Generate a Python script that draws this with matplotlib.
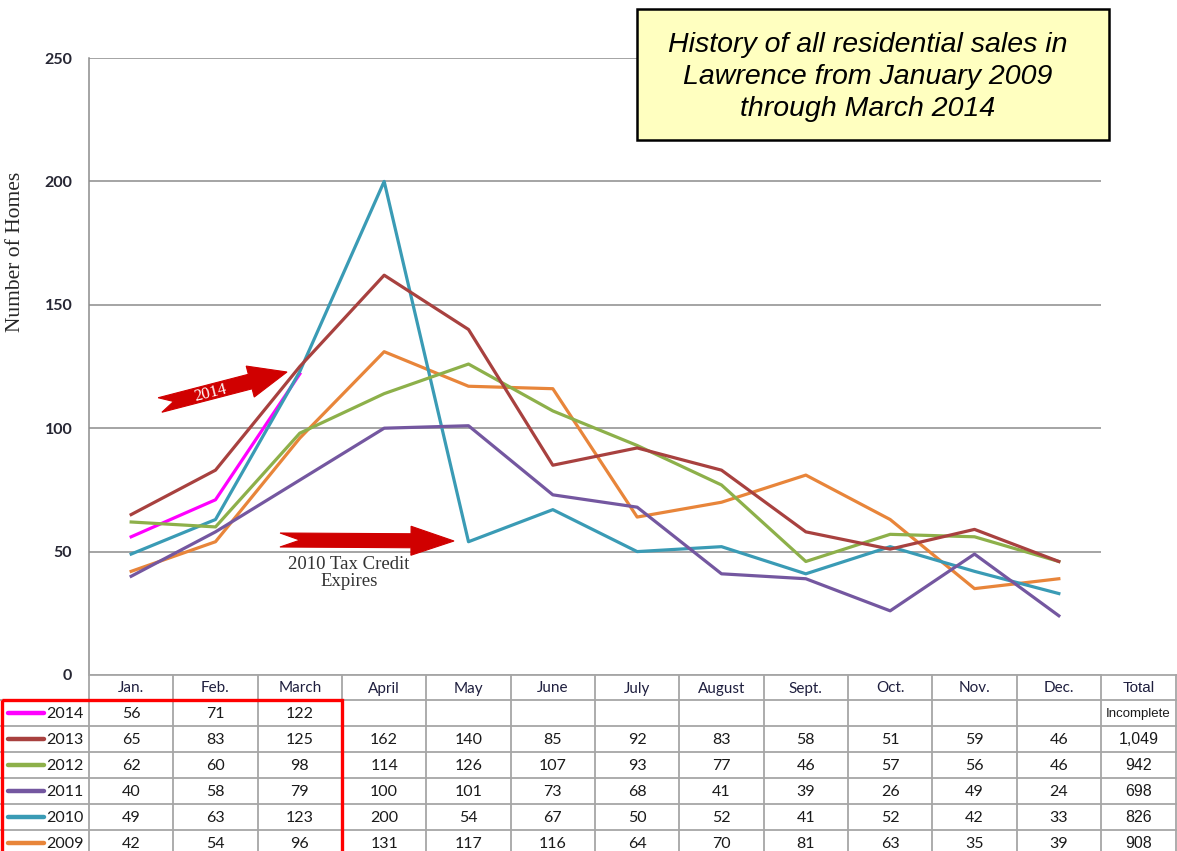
import numpy as np
import matplotlib
matplotlib.use('Agg')
from matplotlib import pyplot as plt
from matplotlib.patches import Polygon, Rectangle

# Data
months = ['Jan.', 'Feb.', 'March', 'April', 'May', 'June', 'July', 'August',
          'Sept.', 'Oct.', 'Nov.', 'Dec.']
years = ['2014', '2013', '2012', '2011', '2010', '2009']
sales_2014 = [56, 71, 122, None, None, None, None, None, None, None, None, None]
sales_2013 = [65, 83, 125, 162, 140, 85, 92, 83, 58, 51, 59, 46]
sales_2012 = [62, 60, 98, 114, 126, 107, 93, 77, 46, 57, 56, 46]
sales_2011 = [40, 58, 79, 100, 101, 73, 68, 41, 39, 26, 49, 24]
sales_2010 = [49, 63, 123, 200, 54, 67, 50, 52, 41, 52, 42, 33]
sales_2009 = [42, 54, 96, 131, 117, 116, 64, 70, 81, 63, 35, 39]
totals = ['Incomplete', '1,049', '942', '698', '826', '908']

series = [sales_2014, sales_2013, sales_2012, sales_2011, sales_2010, sales_2009]
colors = ['#FF00FF', '#A8413F', '#8DB04A', '#7457A0', '#3A9BB5', '#E8853A']
draw_order = [0, 5, 4, 3, 2, 1]

W, H = 1177, 851
fig = plt.figure(figsize=(W / 100, H / 100), dpi=100)

# pixel layout of plot area / table
px_left, px_right, px_top, px_zero = 89, 1101, 58, 675
row_h = 26
hdr_bottom = 700

ax = fig.add_axes([px_left / W, 1 - px_zero / H, (px_right - px_left) / W, (px_zero - px_top) / H])
x = np.arange(len(months))
for z, i in enumerate(draw_order):
    y = np.array([np.nan if v is None else v for v in series[i]], dtype=float)
    ax.plot(x, y, color=colors[i], lw=2.3, zorder=3 + z * 0.1)
ax.set_xlim(-0.5, len(months) - 0.5)
ax.set_ylim(0, 250)
ax.set_yticks([0, 50, 100, 150, 200, 250])
ax.set_xticks([])
ax.grid(axis='y', color='#8C8C8C', lw=1.1)
ax.set_axisbelow(True)
for s in ['top', 'right', 'bottom']:
    ax.spines[s].set_visible(False)
ax.spines['left'].set_color('#8C8C8C')
ax.spines['left'].set_linewidth(1.1)
ax.tick_params(axis='y', length=0, pad=12, labelsize=11.5, labelcolor='#262633')
for lab in ax.get_yticklabels():
    lab.set_fontfamily('Lato')
    lab.set_fontweight('bold')

fig.text(16 / W, 1 - 252 / H, 'Number of Homes', rotation=90, ha='center', va='center',
         family='Liberation Serif', fontsize=15.5, color='#262626')

# overlay in pixel coordinates for table, arrows, title box
ov = fig.add_axes([0, 0, 1, 1])
ov.set_xlim(0, W)
ov.set_ylim(H, 0)
ov.axis('off')
ov.patch.set_alpha(0)

col_w = (px_right - px_left) / len(months)
edges = [px_left + k * col_w for k in range(len(months) + 1)] + [1176]
grid_c = '#A6A6A6'
ov.plot([px_left, 1176], [px_zero, px_zero], color=grid_c, lw=1.3)
n_rows = len(years)
row_y = [hdr_bottom + k * row_h for k in range(n_rows + 1)]
for yy in row_y:
    ov.plot([0, 1176], [yy, yy], color=grid_c, lw=1.3)
for ex in edges:
    ov.plot([ex, ex], [px_zero, H], color=grid_c, lw=1.3)

centers = [(edges[k] + edges[k + 1]) / 2 for k in range(len(edges) - 1)]
for k, m in enumerate(months + ['Total']):
    ov.text(centers[k], (px_zero + hdr_bottom) / 2 + 1, m, ha='center', va='center',
            family='Lato' if m != 'Total' else 'Liberation Sans', fontsize=11, color='#1F1F3F')

for r, yr in enumerate(years):
    cy = row_y[r] + row_h / 2
    ov.plot([8, 44], [cy, cy], color=colors[r], lw=3.2, solid_capstyle='round')
    ov.text(46, cy + 1, yr, ha='left', va='center', family='Lato', fontsize=11.5, color='#1A1A1A')
    for k, v in enumerate(series[r]):
        if v is not None:
            ov.text(centers[k], cy + 1, str(v), ha='center', va='center', family='Lato',
                    fontsize=11.5, color='#1A1A1A')
    t = totals[r]
    ov.text(centers[-1], cy + 1, t, ha='center', va='center', family='Liberation Sans',
            fontsize=9.5 if t == 'Incomplete' else 11.5, color='#1A1A1A')

# red box around first months of the table
ov.add_patch(Rectangle((2, hdr_bottom), edges[3] - 2, H - hdr_bottom + 5, fill=False,
                       ec='#FF0000', lw=2.4, zorder=5))


def notched_arrow(x0, y0, x1, y1, body, head_w, head_l, notch, color):
    d = np.array([x1 - x0, y1 - y0], float)
    L = np.hypot(*d)
    u = d / L
    n = np.array([-u[1], u[0]])
    p0 = np.array([x0, y0], float)
    base = p0 + u * (L - head_l)
    pts = [p0 + n * body / 2, base + n * body / 2, base + n * head_w / 2, np.array([x1, y1]),
           base - n * head_w / 2, base - n * body / 2, p0 - n * body / 2, p0 + u * notch]
    ov.add_patch(Polygon(pts, closed=True, fc=color, ec=color, lw=0.8, zorder=6))


notched_arrow(160, 405, 287, 372, 15, 32, 38, 14, '#D00000')
ov.text(210, 393, '2014', rotation=14, ha='center', va='center', family='Liberation Serif',
        fontsize=12, color='white', zorder=7)
notched_arrow(280, 540, 454, 541, 14, 29, 43, 20, '#D00000')
ov.text(349, 573, '2010 Tax Credit\nExpires', ha='center', va='center', family='Liberation Serif',
        fontsize=13.5, color='#333333', linespacing=1.0)

# title box
ov.add_patch(Rectangle((637, 9), 472, 131, fc='#FFFFC0', ec='black', lw=1.8, zorder=8))
ov.text(868, 77, 'History of all residential sales in\nLawrence from January 2009\nthrough March 2014',
        ha='center', va='center', family='Liberation Sans', style='italic', fontsize=20.5,
        linespacing=1.3, zorder=9)

fig.savefig('out.png', dpi=100)
